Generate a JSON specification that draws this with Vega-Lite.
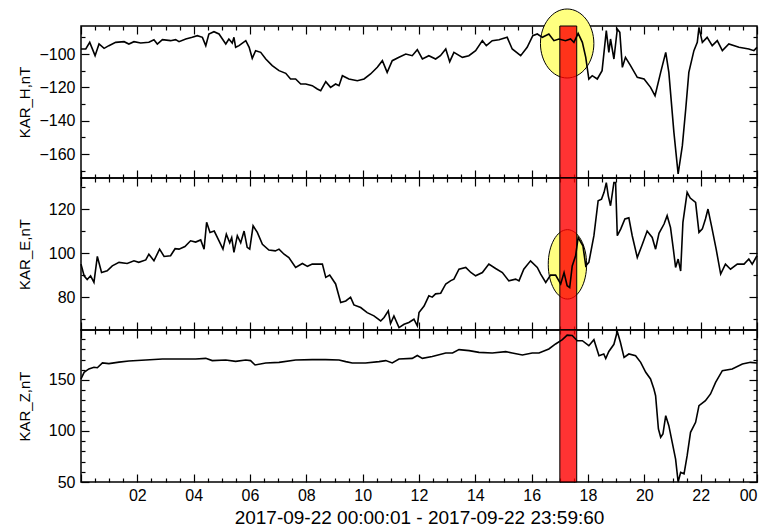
{
  "$schema": "https://vega.github.io/schema/vega-lite/v6.json",
  "padding": {"left": 16, "top": 6, "right": 2, "bottom": 0},
  "spacing": 0,
  "bounds": "flush",
  "config": {
    "view": {"stroke": "black", "strokeWidth": 1.5},
    "font": "Liberation Sans",
    "axis": {"domain": false, "grid": false, "tickColor": "black", "tickWidth": 1.2, "labelColor": "black", "titleColor": "black", "labelFont": "Liberation Sans", "titleFont": "Liberation Sans", "titleFontWeight": "normal", "labelFontSize": 16, "titleFontSize": 15}
  },
  "datasets": {
    "bar": [{"start": 17.0, "end": 17.6}],
    "ellipses": [{"panel": "H", "hour": 17.26, "value": -93.7}, {"panel": "E", "hour": 17.27, "value": 94.9}],
    "h": [
      {"hour":0,"value":-97},{"hour":0.17,"value":-97},{"hour":0.31,"value":-93},{"hour":0.5,"value":-101},{"hour":0.64,"value":-94},{"hour":0.82,"value":-96.6},{"hour":0.99,"value":-95},{"hour":1.23,"value":-93},{"hour":1.53,"value":-92.6},{"hour":1.7,"value":-94},{"hour":1.88,"value":-92.6},{"hour":2.12,"value":-93.4},{"hour":2.41,"value":-93},{"hour":2.59,"value":-91.4},{"hour":2.71,"value":-94},{"hour":2.89,"value":-91.4},{"hour":3.18,"value":-92},{"hour":3.36,"value":-91.4},{"hour":3.48,"value":-92.6},{"hour":3.72,"value":-91},{"hour":3.95,"value":-90},{"hour":4.13,"value":-89},{"hour":4.31,"value":-90},{"hour":4.43,"value":-95},{"hour":4.54,"value":-88},{"hour":4.72,"value":-86.6},{"hour":4.9,"value":-88},{"hour":5.14,"value":-94},{"hour":5.25,"value":-91},{"hour":5.37,"value":-93.4},{"hour":5.43,"value":-90},{"hour":5.49,"value":-96},{"hour":5.61,"value":-95},{"hour":5.85,"value":-92},{"hour":5.97,"value":-96},{"hour":6.08,"value":-102.6},{"hour":6.2,"value":-98},{"hour":6.38,"value":-99},{"hour":6.56,"value":-103},{"hour":6.79,"value":-107},{"hour":7.03,"value":-110},{"hour":7.27,"value":-111.6},{"hour":7.44,"value":-115},{"hour":7.62,"value":-115},{"hour":7.8,"value":-118},{"hour":7.98,"value":-118},{"hour":8.21,"value":-119},{"hour":8.39,"value":-121},{"hour":8.51,"value":-122},{"hour":8.69,"value":-116.6},{"hour":8.86,"value":-120},{"hour":9.04,"value":-118},{"hour":9.16,"value":-119},{"hour":9.28,"value":-113},{"hour":9.51,"value":-115},{"hour":9.81,"value":-116},{"hour":10.05,"value":-115},{"hour":10.28,"value":-112},{"hour":10.52,"value":-108},{"hour":10.7,"value":-104},{"hour":10.87,"value":-111},{"hour":11.05,"value":-104},{"hour":11.29,"value":-102},{"hour":11.53,"value":-100},{"hour":11.76,"value":-101},{"hour":11.94,"value":-97.4},{"hour":12.12,"value":-103},{"hour":12.35,"value":-101},{"hour":12.59,"value":-103},{"hour":12.76,"value":-101},{"hour":12.95,"value":-97},{"hour":13.09,"value":-104.6},{"hour":13.24,"value":-99},{"hour":13.54,"value":-102},{"hour":13.77,"value":-101},{"hour":14.01,"value":-98},{"hour":14.25,"value":-92},{"hour":14.39,"value":-95},{"hour":14.6,"value":-92},{"hour":14.84,"value":-91.4},{"hour":15.13,"value":-90},{"hour":15.31,"value":-97},{"hour":15.61,"value":-101},{"hour":15.84,"value":-96},{"hour":16.04,"value":-89},{"hour":16.2,"value":-88},{"hour":16.38,"value":-90},{"hour":16.61,"value":-88},{"hour":16.79,"value":-92},{"hour":16.97,"value":-91},{"hour":17.2,"value":-92},{"hour":17.38,"value":-91},{"hour":17.5,"value":-93},{"hour":17.65,"value":-87.6},{"hour":17.8,"value":-93},{"hour":17.92,"value":-102},{"hour":18.03,"value":-115},{"hour":18.15,"value":-113},{"hour":18.33,"value":-115},{"hour":18.5,"value":-110},{"hour":18.65,"value":-86},{"hour":18.74,"value":-99},{"hour":18.8,"value":-91},{"hour":18.92,"value":-103},{"hour":19.04,"value":-85},{"hour":19.13,"value":-87},{"hour":19.22,"value":-108},{"hour":19.33,"value":-102},{"hour":19.51,"value":-107},{"hour":19.75,"value":-114},{"hour":19.99,"value":-115},{"hour":20.22,"value":-120},{"hour":20.38,"value":-125},{"hour":20.58,"value":-111},{"hour":20.76,"value":-99},{"hour":20.87,"value":-111},{"hour":21.05,"value":-147},{"hour":21.2,"value":-172},{"hour":21.35,"value":-155},{"hour":21.47,"value":-133},{"hour":21.58,"value":-111},{"hour":21.76,"value":-98},{"hour":21.88,"value":-93},{"hour":21.94,"value":-84},{"hour":22.06,"value":-93},{"hour":22.23,"value":-90},{"hour":22.41,"value":-95},{"hour":22.59,"value":-92},{"hour":22.77,"value":-98},{"hour":23.0,"value":-94},{"hour":23.36,"value":-96},{"hour":23.71,"value":-97},{"hour":23.89,"value":-98},{"hour":24,"value":-96}
    ],
    "e": [
      {"hour":0,"value":95},{"hour":0.11,"value":89.7},{"hour":0.22,"value":88},{"hour":0.34,"value":89.7},{"hour":0.46,"value":86.7},{"hour":0.58,"value":98.5},{"hour":0.73,"value":91.2},{"hour":0.93,"value":92},{"hour":1.11,"value":94.2},{"hour":1.35,"value":95.8},{"hour":1.64,"value":95.3},{"hour":1.88,"value":96.5},{"hour":2.05,"value":95.8},{"hour":2.3,"value":96.9},{"hour":2.41,"value":99.5},{"hour":2.59,"value":96.5},{"hour":2.79,"value":101.8},{"hour":2.95,"value":98.5},{"hour":3.18,"value":98.8},{"hour":3.34,"value":102},{"hour":3.48,"value":101.8},{"hour":3.69,"value":103},{"hour":3.89,"value":105.6},{"hour":4.07,"value":105},{"hour":4.25,"value":106},{"hour":4.37,"value":101.8},{"hour":4.46,"value":114},{"hour":4.58,"value":109.4},{"hour":4.73,"value":110},{"hour":4.9,"value":105.6},{"hour":5.04,"value":101.8},{"hour":5.16,"value":108.6},{"hour":5.28,"value":104.7},{"hour":5.35,"value":107},{"hour":5.43,"value":100.3},{"hour":5.55,"value":107.9},{"hour":5.67,"value":104.7},{"hour":5.79,"value":110},{"hour":5.9,"value":102.6},{"hour":5.99,"value":101.8},{"hour":6.11,"value":112.4},{"hour":6.26,"value":109.4},{"hour":6.44,"value":104},{"hour":6.67,"value":101.4},{"hour":6.9,"value":101},{"hour":7.03,"value":101.8},{"hour":7.21,"value":99.5},{"hour":7.38,"value":98},{"hour":7.62,"value":93.5},{"hour":7.86,"value":95.3},{"hour":8.04,"value":94},{"hour":8.21,"value":95},{"hour":8.4,"value":95},{"hour":8.57,"value":95},{"hour":8.69,"value":89},{"hour":8.83,"value":90},{"hour":9.04,"value":86},{"hour":9.22,"value":77.6},{"hour":9.4,"value":78.3},{"hour":9.57,"value":80},{"hour":9.69,"value":76.5},{"hour":9.93,"value":75.3},{"hour":10.16,"value":73},{"hour":10.4,"value":71.5},{"hour":10.64,"value":69.2},{"hour":10.76,"value":70.8},{"hour":10.91,"value":73.8},{"hour":10.99,"value":68},{"hour":11.11,"value":71.5},{"hour":11.29,"value":66.2},{"hour":11.47,"value":67.7},{"hour":11.64,"value":68.5},{"hour":11.82,"value":70},{"hour":11.94,"value":67},{"hour":12.0,"value":73},{"hour":12.18,"value":76},{"hour":12.35,"value":80.6},{"hour":12.47,"value":80},{"hour":12.59,"value":81.5},{"hour":12.77,"value":81.8},{"hour":12.95,"value":86},{"hour":13.13,"value":87.5},{"hour":13.24,"value":88.2},{"hour":13.42,"value":92.7},{"hour":13.66,"value":93.5},{"hour":13.84,"value":91.2},{"hour":14.01,"value":89.7},{"hour":14.25,"value":91.2},{"hour":14.48,"value":95},{"hour":14.72,"value":93},{"hour":14.96,"value":91.2},{"hour":15.19,"value":87.4},{"hour":15.43,"value":88.2},{"hour":15.55,"value":87.4},{"hour":15.72,"value":92.7},{"hour":15.96,"value":96.5},{"hour":16.2,"value":93.5},{"hour":16.32,"value":90.5},{"hour":16.5,"value":86.7},{"hour":16.67,"value":90},{"hour":16.85,"value":90},{"hour":17.03,"value":86},{"hour":17.15,"value":91.2},{"hour":17.26,"value":85.2},{"hour":17.35,"value":84.4},{"hour":17.44,"value":94.2},{"hour":17.56,"value":98.8},{"hour":17.65,"value":107.1},{"hour":17.82,"value":103.3},{"hour":17.92,"value":94.2},{"hour":18.03,"value":95.8},{"hour":18.21,"value":107.9},{"hour":18.36,"value":123.8},{"hour":18.48,"value":124.5},{"hour":18.57,"value":127.6},{"hour":18.65,"value":132},{"hour":18.72,"value":126},{"hour":18.8,"value":121.5},{"hour":18.92,"value":132},{"hour":18.98,"value":132},{"hour":19.04,"value":107.9},{"hour":19.16,"value":110.9},{"hour":19.31,"value":115.5},{"hour":19.45,"value":116},{"hour":19.57,"value":107.9},{"hour":19.75,"value":98},{"hour":19.93,"value":104},{"hour":20.1,"value":110},{"hour":20.28,"value":107.1},{"hour":20.4,"value":101.8},{"hour":20.52,"value":109},{"hour":20.7,"value":113.2},{"hour":20.81,"value":117},{"hour":20.93,"value":111.6},{"hour":21.03,"value":101.8},{"hour":21.11,"value":93.5},{"hour":21.2,"value":97.3},{"hour":21.29,"value":91.9},{"hour":21.37,"value":114},{"hour":21.52,"value":127.6},{"hour":21.63,"value":125},{"hour":21.82,"value":123},{"hour":21.94,"value":109.4},{"hour":22.06,"value":111},{"hour":22.17,"value":115.5},{"hour":22.26,"value":120},{"hour":22.39,"value":112},{"hour":22.55,"value":101.8},{"hour":22.71,"value":90.5},{"hour":22.88,"value":95},{"hour":23.06,"value":92.7},{"hour":23.3,"value":95},{"hour":23.54,"value":95},{"hour":23.71,"value":97.3},{"hour":23.83,"value":95},{"hour":24,"value":98.8}
    ],
    "z": [
      {"hour":0,"value":151},{"hour":0.11,"value":157.5},{"hour":0.28,"value":160.8},{"hour":0.46,"value":162.5},{"hour":0.58,"value":162},{"hour":0.76,"value":166.7},{"hour":0.99,"value":166},{"hour":1.35,"value":167.5},{"hour":1.7,"value":168.6},{"hour":2.3,"value":169.6},{"hour":2.89,"value":170.6},{"hour":3.48,"value":170.6},{"hour":4.07,"value":170.6},{"hour":4.43,"value":171.2},{"hour":4.66,"value":169},{"hour":5.14,"value":169.6},{"hour":5.49,"value":168.3},{"hour":5.85,"value":169.6},{"hour":6.02,"value":169},{"hour":6.18,"value":164.7},{"hour":6.56,"value":166.7},{"hour":7.03,"value":167.3},{"hour":7.62,"value":169.6},{"hour":8.21,"value":170},{"hour":8.68,"value":170},{"hour":9.16,"value":169.6},{"hour":9.4,"value":168},{"hour":9.63,"value":166.7},{"hour":10.1,"value":166.7},{"hour":10.58,"value":168},{"hour":10.82,"value":169},{"hour":11.05,"value":166.7},{"hour":11.29,"value":170.6},{"hour":11.76,"value":171.2},{"hour":11.94,"value":174},{"hour":12.12,"value":171.2},{"hour":12.47,"value":173},{"hour":12.95,"value":176.5},{"hour":13.19,"value":176.5},{"hour":13.42,"value":179.8},{"hour":13.78,"value":178.8},{"hour":14.13,"value":177.1},{"hour":14.6,"value":176.5},{"hour":15.08,"value":177.8},{"hour":15.31,"value":176.5},{"hour":15.67,"value":174.5},{"hour":16.02,"value":176.5},{"hour":16.26,"value":176.5},{"hour":16.61,"value":180.4},{"hour":16.85,"value":185.3},{"hour":17.09,"value":189.5},{"hour":17.26,"value":194},{"hour":17.44,"value":193.6},{"hour":17.62,"value":188.5},{"hour":17.8,"value":188.5},{"hour":18.03,"value":183.6},{"hour":18.21,"value":189.5},{"hour":18.39,"value":173.8},{"hour":18.56,"value":175.5},{"hour":18.63,"value":171},{"hour":18.74,"value":178},{"hour":18.92,"value":185},{"hour":19.04,"value":197.5},{"hour":19.15,"value":187},{"hour":19.28,"value":172.2},{"hour":19.45,"value":175.5},{"hour":19.69,"value":173.8},{"hour":19.87,"value":167.3},{"hour":20.05,"value":157.5},{"hour":20.22,"value":151},{"hour":20.34,"value":141.2},{"hour":20.4,"value":134.6},{"hour":20.5,"value":102},{"hour":20.58,"value":93.8},{"hour":20.66,"value":97},{"hour":20.76,"value":115},{"hour":20.87,"value":105.2},{"hour":20.99,"value":88.9},{"hour":21.11,"value":72.5},{"hour":21.2,"value":50},{"hour":21.29,"value":59.5},{"hour":21.41,"value":58},{"hour":21.52,"value":75.8},{"hour":21.64,"value":98.7},{"hour":21.82,"value":108.5},{"hour":21.94,"value":124.8},{"hour":22.17,"value":129.7},{"hour":22.35,"value":136.3},{"hour":22.53,"value":147.7},{"hour":22.77,"value":159.1},{"hour":23.12,"value":160.8},{"hour":23.48,"value":165.7},{"hour":23.77,"value":167.3},{"hour":24,"value":166.7}
    ]
  },
  "vconcat": [
    {
      "width": 676, "height": 152,
      "layer": [
        {"data": {"name": "ellipses"}, "transform": [{"filter": "datum.panel == 'H'"}],
         "mark": {"type": "point", "shape": "M -0.774 0 A 0.774 1 0 1 1 0.774 0 A 0.774 1 0 1 1 -0.774 0 Z", "size": 4761, "filled": true, "fill": "#ffff80", "stroke": "black", "strokeWidth": 1, "opacity": 1},
         "encoding": {
           "x": {"field": "hour", "type": "quantitative", "scale": {"domain": [0, 24], "nice": false}, "axis": null},
           "y": {"field": "value", "type": "quantitative", "scale": {"domain": [-174.4, -83.2], "nice": false, "zero": false}, "axis": null}}},
        {"data": {"name": "bar"},
         "mark": {"type": "rect", "fill": "#ff0000", "fillOpacity": 0.8, "stroke": "black", "strokeWidth": 1},
         "encoding": {
           "x": {"field": "start", "type": "quantitative", "scale": {"domain": [0, 24], "nice": false}, "axis": null},
           "x2": {"field": "end"}}},
        {"data": {"name": "h"},
         "mark": {"type": "line", "color": "black", "strokeWidth": 1.6},
         "encoding": {
           "x": {"field": "hour", "type": "quantitative", "scale": {"domain": [0, 24], "nice": false},
                 "axis": {"orient": "bottom", "values": [0,0.5,1,1.5,2,2.5,3,3.5,4,4.5,5,5.5,6,6.5,7,7.5,8,8.5,9,9.5,10,10.5,11,11.5,12,12.5,13,13.5,14,14.5,15,15.5,16,16.5,17,17.5,18,18.5,19,19.5,20,20.5,21,21.5,22,22.5,23,23.5,24], "labels": false, "title": null, "tickSize": {"condition": {"test": "datum.value % 2 == 0", "value": -8}, "value": -4}}},
           "y": {"field": "value", "type": "quantitative", "scale": {"domain": [-174.4, -83.2], "nice": false, "zero": false},
                 "axis": {"orient": "left", "title": "KAR_H,nT", "values": [-170,-160,-150,-140,-130,-120,-110,-100,-90], "labelExpr": "datum.value % 20 == 0 ? datum.label : ''", "labelOverlap": false, "tickSize": {"condition": {"test": "datum.value % 20 == 0", "value": -8}, "value": -4}, "labelPadding": 14, "minExtent": 45, "maxExtent": 45, "titlePadding": 4}}}},
        {"data": {"name": "h"},
         "mark": {"type": "line", "opacity": 0},
         "encoding": {
           "x": {"field": "hour", "type": "quantitative", "scale": {"domain": [0, 24], "nice": false},
                 "axis": {"orient": "top", "values": [0,0.5,1,1.5,2,2.5,3,3.5,4,4.5,5,5.5,6,6.5,7,7.5,8,8.5,9,9.5,10,10.5,11,11.5,12,12.5,13,13.5,14,14.5,15,15.5,16,16.5,17,17.5,18,18.5,19,19.5,20,20.5,21,21.5,22,22.5,23,23.5,24], "labels": false, "title": null, "tickSize": {"condition": {"test": "datum.value % 2 == 0", "value": -8}, "value": -4}}},
           "y": {"field": "value", "type": "quantitative", "scale": {"domain": [-174.4, -83.2], "nice": false, "zero": false},
                 "axis": {"orient": "right", "title": null, "labels": false, "values": [-170,-160,-150,-140,-130,-120,-110,-100,-90], "tickSize": {"condition": {"test": "datum.value % 20 == 0", "value": -8}, "value": -4}}}}}
      ],
      "resolve": {"axis": {"x": "independent", "y": "independent"}}
    },
    {
      "width": 676, "height": 152,
      "layer": [
        {"data": {"name": "ellipses"}, "transform": [{"filter": "datum.panel == 'E'"}],
         "mark": {"type": "point", "shape": "M -0.553 0 A 0.553 1 0 1 1 0.553 0 A 0.553 1 0 1 1 -0.553 0 Z", "size": 4816, "filled": true, "fill": "#ffff80", "stroke": "black", "strokeWidth": 1, "opacity": 1},
         "encoding": {
           "x": {"field": "hour", "type": "quantitative", "scale": {"domain": [0, 24], "nice": false}, "axis": null},
           "y": {"field": "value", "type": "quantitative", "scale": {"domain": [65.1, 134.1], "nice": false, "zero": false}, "axis": null}}},
        {"data": {"name": "bar"},
         "mark": {"type": "rect", "fill": "#ff0000", "fillOpacity": 0.8, "stroke": "black", "strokeWidth": 1},
         "encoding": {
           "x": {"field": "start", "type": "quantitative", "scale": {"domain": [0, 24], "nice": false}, "axis": null},
           "x2": {"field": "end"}}},
        {"data": {"name": "e"},
         "mark": {"type": "line", "color": "black", "strokeWidth": 1.6},
         "encoding": {
           "x": {"field": "hour", "type": "quantitative", "scale": {"domain": [0, 24], "nice": false},
                 "axis": {"orient": "bottom", "values": [0,0.5,1,1.5,2,2.5,3,3.5,4,4.5,5,5.5,6,6.5,7,7.5,8,8.5,9,9.5,10,10.5,11,11.5,12,12.5,13,13.5,14,14.5,15,15.5,16,16.5,17,17.5,18,18.5,19,19.5,20,20.5,21,21.5,22,22.5,23,23.5,24], "labels": false, "title": null, "tickSize": {"condition": {"test": "datum.value % 2 == 0", "value": -8}, "value": -4}}},
           "y": {"field": "value", "type": "quantitative", "scale": {"domain": [65.1, 134.1], "nice": false, "zero": false},
                 "axis": {"orient": "left", "title": "KAR_E,nT", "values": [70,80,90,100,110,120,130], "labelExpr": "datum.value % 20 == 0 ? datum.label : ''", "labelOverlap": false, "tickSize": {"condition": {"test": "datum.value % 20 == 0", "value": -8}, "value": -4}, "labelPadding": 14, "minExtent": 45, "maxExtent": 45, "titlePadding": 4}}}},
        {"data": {"name": "e"},
         "mark": {"type": "line", "opacity": 0},
         "encoding": {
           "x": {"field": "hour", "type": "quantitative", "scale": {"domain": [0, 24], "nice": false},
                 "axis": {"orient": "top", "values": [0,0.5,1,1.5,2,2.5,3,3.5,4,4.5,5,5.5,6,6.5,7,7.5,8,8.5,9,9.5,10,10.5,11,11.5,12,12.5,13,13.5,14,14.5,15,15.5,16,16.5,17,17.5,18,18.5,19,19.5,20,20.5,21,21.5,22,22.5,23,23.5,24], "labels": false, "title": null, "tickSize": {"condition": {"test": "datum.value % 2 == 0", "value": -8}, "value": -4}}},
           "y": {"field": "value", "type": "quantitative", "scale": {"domain": [65.1, 134.1], "nice": false, "zero": false},
                 "axis": {"orient": "right", "title": null, "labels": false, "values": [70,80,90,100,110,120,130], "tickSize": {"condition": {"test": "datum.value % 20 == 0", "value": -8}, "value": -4}}}}}
      ],
      "resolve": {"axis": {"x": "independent", "y": "independent"}}
    },
    {
      "width": 676, "height": 152,
      "layer": [
        {"data": {"name": "bar"},
         "mark": {"type": "rect", "fill": "#ff0000", "fillOpacity": 0.8, "stroke": "black", "strokeWidth": 1},
         "encoding": {
           "x": {"field": "start", "type": "quantitative", "scale": {"domain": [0, 24], "nice": false}, "axis": null},
           "x2": {"field": "end"}}},
        {"data": {"name": "z"},
         "mark": {"type": "line", "color": "black", "strokeWidth": 1.6},
         "encoding": {
           "x": {"field": "hour", "type": "quantitative", "scale": {"domain": [0, 24], "nice": false},
                 "axis": {"orient": "bottom", "values": [0,0.5,1,1.5,2,2.5,3,3.5,4,4.5,5,5.5,6,6.5,7,7.5,8,8.5,9,9.5,10,10.5,11,11.5,12,12.5,13,13.5,14,14.5,15,15.5,16,16.5,17,17.5,18,18.5,19,19.5,20,20.5,21,21.5,22,22.5,23,23.5,24], "labelExpr": "(datum.value % 2 == 0 && datum.value > 0) ? ((datum.value % 24 < 10 ? '0' : '') + (datum.value % 24)) : ''", "labelOverlap": false, "labelFlush": true, "labelPadding": 13, "labelFontSize": 16, "title": "2017-09-22 00:00:01 - 2017-09-22 23:59:60", "titleFontSize": 19, "titlePadding": 1, "tickSize": {"condition": {"test": "datum.value % 2 == 0", "value": -8}, "value": -4}}},
           "y": {"field": "value", "type": "quantitative", "scale": {"domain": [50, 199], "nice": false, "zero": false},
                 "axis": {"orient": "left", "title": "KAR_Z,nT", "values": [50,60,70,80,90,100,110,120,130,140,150,160,170,180,190], "labelExpr": "datum.value % 50 == 0 ? datum.label : ''", "labelOverlap": false, "tickSize": {"condition": {"test": "datum.value % 50 == 0", "value": -8}, "value": -4}, "labelPadding": 14, "minExtent": 45, "maxExtent": 45, "titlePadding": 4}}}},
        {"data": {"name": "z"},
         "mark": {"type": "line", "opacity": 0},
         "encoding": {
           "x": {"field": "hour", "type": "quantitative", "scale": {"domain": [0, 24], "nice": false},
                 "axis": {"orient": "top", "values": [0,0.5,1,1.5,2,2.5,3,3.5,4,4.5,5,5.5,6,6.5,7,7.5,8,8.5,9,9.5,10,10.5,11,11.5,12,12.5,13,13.5,14,14.5,15,15.5,16,16.5,17,17.5,18,18.5,19,19.5,20,20.5,21,21.5,22,22.5,23,23.5,24], "labels": false, "title": null, "tickSize": {"condition": {"test": "datum.value % 2 == 0", "value": -8}, "value": -4}}},
           "y": {"field": "value", "type": "quantitative", "scale": {"domain": [50, 199], "nice": false, "zero": false},
                 "axis": {"orient": "right", "title": null, "labels": false, "values": [50,60,70,80,90,100,110,120,130,140,150,160,170,180,190], "tickSize": {"condition": {"test": "datum.value % 50 == 0", "value": -8}, "value": -4}}}}}
      ],
      "resolve": {"axis": {"x": "independent", "y": "independent"}}
    }
  ]
}
